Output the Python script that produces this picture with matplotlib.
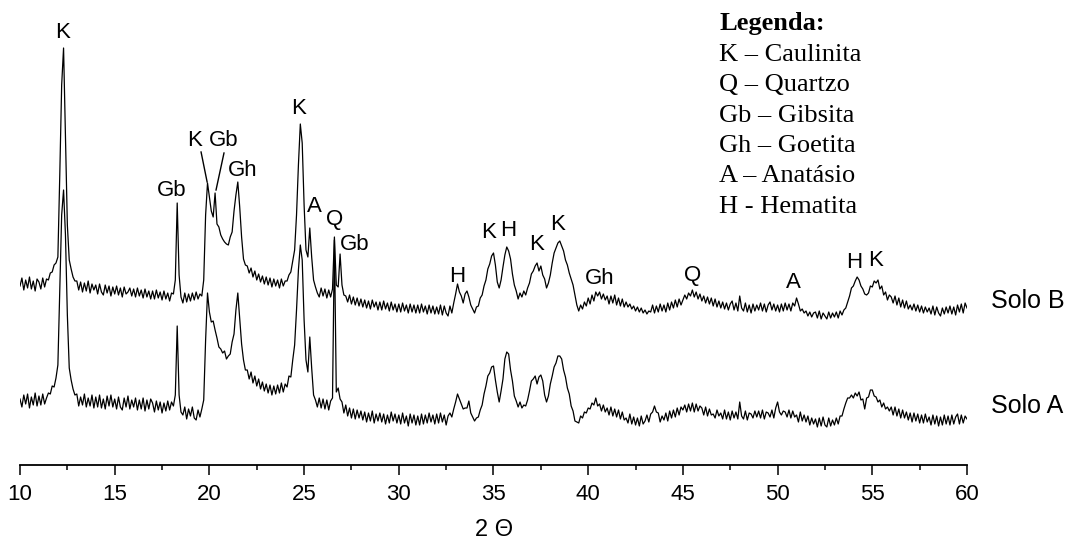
import numpy as np
import matplotlib
matplotlib.use("Agg")
import matplotlib.pyplot as plt

# 2-theta scan grid (degrees), 0.1 deg step
two_theta = np.round(np.arange(10.0, 60.05, 0.1), 1)

# Solo A intensities (a.u.), one row per degree (d.0 ... d.9), last value 60.0
solo_a = [
    41, 33, 45, 36, 46, 32, 43, 35, 47, 34,      # 10
    44, 35, 46, 36, 42, 47, 46, 54, 53, 62,      # 11
    75, 150, 225, 250, 205, 125, 72, 60, 51, 45, # 12
    46, 34, 43, 35, 46, 33, 42, 34, 45, 32,      # 13
    43, 33, 45, 32, 41, 31, 44, 34, 45, 33,      # 14
    41, 31, 43, 33, 30, 42, 33, 44, 31, 40,      # 15
    33, 42, 30, 40, 31, 42, 29, 40, 31, 41,      # 16
    37, 28, 39, 30, 38, 27, 37, 29, 39, 30,      # 17
    38, 34, 45, 114, 45, 28, 25, 33, 21, 31,     # 18
    24, 33, 22, 20, 30, 23, 31, 40, 100, 147,    # 19
    128, 118, 119, 110, 102, 93, 91, 87, 89, 81, # 20
    84, 86, 98, 106, 130, 147, 122, 96, 80, 70,  # 21
    70, 61, 68, 57, 64, 54, 61, 51, 58, 49,      # 22
    56, 47, 55, 45, 54, 46, 55, 47, 57, 48,      # 23
    56, 53, 64, 63, 80, 95, 130, 170, 195, 180,  # 24
    120, 80, 68, 103, 72, 45, 40, 33, 42, 32,    # 25
    41, 31, 40, 30, 39, 42, 200, 48, 52, 41,     # 26
    38, 27, 35, 24, 32, 22, 31, 21, 30, 22,      # 27
    29, 20, 28, 18, 27, 19, 29, 17, 26, 19,      # 28
    27, 18, 26, 16, 25, 17, 28, 19, 26, 17,      # 29
    25, 16, 27, 17, 24, 14, 26, 17, 25, 15,      # 30
    24, 15, 26, 16, 25, 17, 27, 18, 25, 16,      # 31
    26, 17, 27, 18, 25, 15, 24, 27, 23, 31,      # 32
    38, 46, 41, 36, 31, 32, 32, 39, 27, 23,      # 33
    19, 22, 23, 30, 35, 46, 54, 64, 67, 73,      # 34
    74, 60, 48, 38, 49, 61, 81, 88, 86, 70,      # 35
    59, 44, 39, 33, 38, 32, 35, 34, 40, 49,      # 36
    59, 61, 64, 56, 63, 65, 59, 45, 38, 44,      # 37
    56, 64, 73, 77, 84, 84, 81, 70, 63, 52,      # 38
    46, 34, 29, 19, 18, 17, 24, 22, 28, 27,      # 39
    32, 31, 37, 35, 42, 34, 36, 29, 35, 28,      # 40
    32, 25, 33, 24, 31, 23, 30, 21, 28, 20,      # 41
    22, 17, 26, 16, 23, 15, 22, 14, 24, 16,      # 42
    19, 25, 18, 26, 28, 34, 28, 27, 18, 24,      # 43
    20, 27, 19, 29, 22, 30, 23, 32, 25, 33,      # 44
    30, 35, 28, 36, 29, 37, 28, 36, 29, 34,      # 45
    32, 25, 33, 24, 31, 25, 26, 22, 30, 24,      # 46
    27, 21, 30, 21, 28, 20, 29, 22, 28, 21,      # 47
    38, 24, 21, 29, 20, 27, 26, 22, 29, 23,      # 48
    29, 22, 30, 21, 28, 27, 23, 30, 22, 32,      # 49
    38, 28, 25, 29, 28, 23, 30, 22, 29, 23,      # 50
    25, 18, 28, 19, 25, 18, 24, 15, 22, 16,      # 51
    21, 13, 22, 14, 23, 15, 13, 22, 14, 20,      # 52
    15, 22, 16, 24, 24, 31, 37, 42, 42, 45,      # 53
    42, 47, 44, 48, 40, 41, 31, 42, 43, 50,      # 54
    50, 44, 43, 38, 40, 33, 37, 31, 33, 29,      # 55
    33, 25, 33, 24, 31, 22, 30, 22, 28, 20,      # 56
    27, 18, 27, 19, 26, 17, 25, 17, 26, 18,      # 57
    23, 15, 25, 16, 24, 14, 23, 15, 25, 16,      # 58
    24, 15, 25, 16, 23, 26, 16, 25, 17, 24,      # 59
    21,                                          # 60
]

# Solo B intensities (a.u.)
solo_b = [
    39, 47, 35, 45, 37, 48, 36, 44, 34, 46,      # 10
    43, 36, 47, 38, 46, 45, 52, 53, 60, 62,      # 11
    68, 150, 240, 277, 190, 100, 65, 56, 48, 44, # 12
    44, 35, 43, 33, 42, 34, 44, 32, 41, 35,      # 13
    40, 31, 41, 33, 30, 40, 32, 39, 29, 38,      # 14
    31, 39, 30, 37, 28, 38, 31, 33, 37, 29,      # 15
    36, 28, 37, 29, 35, 27, 36, 28, 34, 26,      # 16
    34, 26, 35, 27, 33, 25, 34, 26, 32, 24,      # 17
    32, 31, 45, 122, 50, 28, 22, 32, 23, 31,     # 18
    24, 32, 25, 33, 26, 31, 29, 45, 110, 142,    # 19
    128, 114, 108, 132, 101, 98, 90, 86, 83, 81, # 20
    80, 88, 93, 114, 130, 143, 118, 88, 66, 60,  # 21
    59, 52, 57, 48, 54, 45, 51, 43, 49, 41,      # 22
    48, 40, 47, 38, 46, 39, 45, 37, 46, 39,      # 23
    44, 44, 50, 53, 64, 75, 110, 160, 201, 182,  # 24
    120, 75, 68, 97, 68, 45, 38, 32, 28, 37,     # 25
    29, 36, 27, 35, 28, 36, 88, 40, 38, 71,      # 26
    40, 30, 29, 23, 30, 21, 28, 20, 27, 19,      # 27
    26, 18, 25, 17, 24, 16, 25, 18, 23, 15,      # 28
    23, 15, 24, 16, 22, 14, 23, 15, 21, 13,      # 29
    21, 13, 22, 14, 20, 12, 21, 13, 20, 12,      # 30
    20, 12, 21, 13, 19, 11, 20, 12, 19, 11,      # 31
    18, 11, 20, 10, 19, 12, 9, 19, 12, 22,       # 32
    31, 41, 33, 29, 22, 31, 34, 28, 20, 16,      # 33
    12, 18, 19, 27, 30, 39, 45, 56, 61, 69,      # 34
    72, 60, 43, 37, 45, 58, 70, 78, 74, 66,      # 35
    51, 40, 34, 26, 32, 28, 34, 30, 37, 42,      # 36
    51, 54, 59, 62, 54, 59, 50, 46, 37, 42,      # 37
    50, 62, 72, 77, 82, 84, 79, 74, 65, 60,      # 38
    52, 46, 40, 30, 20, 14, 20, 16, 23, 19,      # 39
    27, 21, 30, 24, 33, 29, 33, 26, 31, 25,      # 40
    29, 21, 29, 22, 30, 20, 27, 19, 26, 18,      # 41
    23, 18, 21, 16, 19, 14, 18, 13, 17, 12,      # 42
    15, 11, 14, 13, 20, 12, 19, 13, 21, 14,      # 43
    20, 13, 22, 15, 23, 17, 25, 18, 26, 20,      # 44
    25, 30, 26, 32, 29, 35, 28, 33, 26, 31,      # 45
    24, 29, 22, 28, 21, 27, 19, 26, 18, 24,      # 46
    17, 23, 16, 22, 15, 21, 24, 15, 22, 14,      # 47
    29, 17, 14, 22, 13, 20, 12, 21, 14, 20,      # 48
    15, 22, 14, 21, 13, 20, 23, 15, 21, 14,      # 49
    20, 13, 21, 14, 22, 15, 21, 14, 22, 19,      # 50
    27, 21, 14, 16, 12, 14, 9, 13, 8, 12,        # 51
    13, 7, 14, 6, 12, 9, 6, 13, 7, 12,           # 52
    8, 13, 7, 14, 10, 15, 17, 23, 29, 37,        # 53
    39, 44, 48, 45, 39, 36, 31, 30, 32, 39,      # 54
    38, 44, 42, 45, 36, 39, 30, 33, 25, 30,      # 55
    28, 22, 29, 20, 27, 18, 25, 17, 24, 16,      # 56
    20, 15, 21, 14, 20, 13, 19, 12, 18, 13,      # 57
    17, 11, 19, 10, 18, 12, 9, 17, 11, 18,       # 58
    12, 19, 11, 18, 10, 20, 13, 21, 12, 22,      # 59
    17,                                          # 60
]

offset_b = 115  # vertical stacking offset of Solo B

# Peak labels: (text, 2theta, label height in a.u. on the stacked scale)
peak_labels = [
    ("K", 12.24, 407), ("Gb", 18.03, 249), ("K", 19.24, 300), ("Gb", 20.77, 300),
    ("Gh", 21.77, 270), ("K", 24.73, 331), ("A", 25.52, 234), ("Q", 26.63, 220),
    ("Gb", 27.69, 196), ("H", 33.10, 164), ("K", 34.74, 207), ("H", 35.79, 209),
    ("K", 37.28, 196), ("K", 38.40, 215), ("Gh", 40.62, 162), ("Q", 45.53, 165),
    ("A", 50.81, 158), ("H", 54.06, 178), ("K", 55.18, 179),
]

legend_lines = ["K \u2013 Caulinita", "Q \u2013 Quartzo", "Gb \u2013 Gibsita",
                "Gh \u2013 Goetita", "A \u2013 Anat\u00e1sio", "H - Hematita"]

W, H = 1073, 542
fig = plt.figure(figsize=(W / 100, H / 100), dpi=100)
ax = fig.add_axes([20 / W, (H - 465) / H, 947 / W, 465 / H])
ax.set_xlim(10, 60)
ax.set_ylim(-25, 440)

xa = two_theta
ya = np.array(solo_a, dtype=float)
yb = np.array(solo_b, dtype=float) + offset_b
ax.plot(xa, ya, color="black", lw=0.9)
ax.plot(xa, yb, color="black", lw=0.9)

sans = ["Liberation Sans", "DejaVu Sans"]
for t, x, y in peak_labels:
    ax.text(x, y, t, ha="center", va="center", fontsize=16, family=sans)

# leader lines for the K / Gb labels near 20 deg
ax.plot([19.56, 19.88], [288, 258], color="black", lw=1.0)
ax.plot([20.77, 20.35], [287, 250], color="black", lw=1.0)

# spines & ticks
for s in ["left", "right", "top"]:
    ax.spines[s].set_visible(False)
ax.spines["bottom"].set_linewidth(1.3)
ax.set_yticks([])
ax.set_xticks(np.arange(10, 61, 5))
ax.set_xticks(np.arange(12.5, 60, 5), minor=True)
ax.tick_params(axis="x", which="major", direction="out", length=7.5, width=1.1,
               pad=6, labelsize=16)
ax.tick_params(axis="x", which="minor", direction="out", length=3.8, width=1.1)
for lab in ax.get_xticklabels():
    lab.set_family(sans)

fig.text(494 / W, 1 - 530 / H, "2 \u0398", ha="center", va="center",
         fontsize=17, family=sans)

fig.text(1028 / W, 1 - 301 / H, "Solo B", ha="center", va="center",
         fontsize=18, family=sans)
fig.text(1027 / W, 1 - 406 / H, "Solo A", ha="center", va="center",
         fontsize=18, family=sans)

serif = ["Liberation Serif", "DejaVu Serif"]
fig.text(719 / W, 1 - 30 / H, "Legenda:", ha="left", va="baseline",
         fontsize=19, fontweight="bold", family=serif)
baselines = [61, 91, 122, 152, 182, 213]
for t, b in zip(legend_lines, baselines):
    fig.text(719 / W, 1 - b / H, t, ha="left", va="baseline", fontsize=19,
             family=serif)

fig.savefig("out.png", dpi=100)
